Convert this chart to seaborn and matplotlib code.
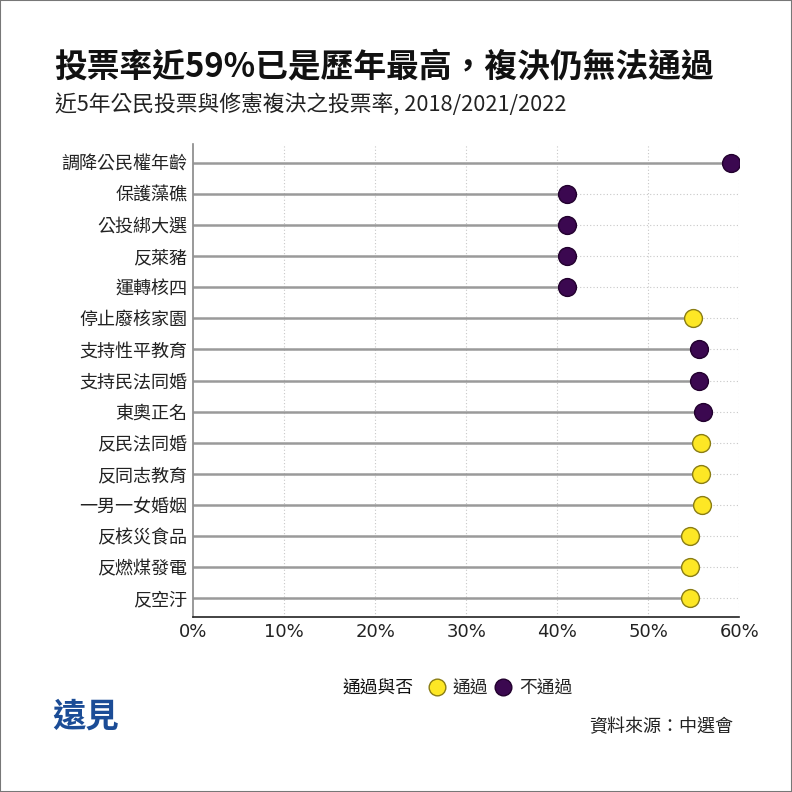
import matplotlib
matplotlib.use("Agg")
import matplotlib.pyplot as plt
from matplotlib.lines import Line2D
from matplotlib.patches import Rectangle
import seaborn as sns
import pandas as pd

# referendum turnout (%)
items = ["調降公民權年齡", "保護藻礁", "公投綁大選", "反萊豬", "運轉核四",
         "停止廢核家園", "支持性平教育", "支持民法同婚", "東奧正名", "反民法同婚",
         "反同志教育", "一男一女婚姻", "反核災食品", "反燃煤發電", "反空汙"]
turnout = [59.1, 41.1, 41.1, 41.1, 41.1,
           54.9, 55.5, 55.5, 56.0, 55.8,
           55.8, 55.9, 54.6, 54.6, 54.6]
result = ["不通過", "不通過", "不通過", "不通過", "不通過",
          "通過", "不通過", "不通過", "不通過", "通過",
          "通過", "通過", "通過", "通過", "通過"]
status_order = ["通過", "不通過"]
xticks = [0, 10, 20, 30, 40, 50, 60]

df = pd.DataFrame({"item": items, "turnout": turnout, "result": result})
df["pos"] = range(len(df))

colors = {"通過": "#fde725", "不通過": "#3b0850"}
edges = {"通過": "#8a7d14", "不通過": "#22002e"}

sns.set_style("white")
plt.rcParams["font.family"] = ["Noto Sans CJK TC", "DejaVu Sans"]

fig = plt.figure(figsize=(7.92, 7.92), dpi=100)
ax = fig.add_axes([0.2437, 0.221, 0.690, 0.597])

ax.set_xlim(0, 60)
ax.set_ylim(len(df) - 0.4, -0.6)

# dotted grid
for t in xticks[1:]:
    ax.axvline(t, color="#c8c8c8", lw=0.8, ls=(0, (1, 2)), zorder=0)
for p in df["pos"]:
    ax.axhline(p, color="#c8c8c8", lw=0.8, ls=(0, (1, 2)), zorder=0)

# stems
ax.hlines(df["pos"], 0, df["turnout"], color="#9a9a9a", lw=1.8, zorder=1)

for s in status_order:
    sub = df[df["result"] == s]
    sns.scatterplot(data=sub, x="turnout", y="pos", ax=ax, s=165,
                    color=colors[s], edgecolor=edges[s], linewidth=1.0,
                    zorder=3, legend=False)

ax.set_yticks(df["pos"])
ax.set_yticklabels(df["item"], fontsize=13, color="#222222")
ax.set_xticks(xticks)
ax.set_xticklabels([f"{t}%" for t in xticks], fontsize=13, color="#222222",
                   family="DejaVu Sans")
ax.set_xlabel("")
ax.set_ylabel("")
ax.tick_params(axis="both", length=0, pad=4)
for sp in ["top", "right"]:
    ax.spines[sp].set_visible(False)
ax.spines["left"].set_color("#888888")
ax.spines["left"].set_linewidth(1.2)
ax.spines["bottom"].set_color("#222222")
ax.spines["bottom"].set_linewidth(1.2)

# titles
fig.text(0.069, 0.915, "投票率近59%已是歷年最高，複決仍無法通過",
         fontsize=23.6, fontweight="bold", color="#111111", va="center")
fig.text(0.069, 0.868, "近5年公民投票與修憲複決之投票率, 2018/2021/2022",
         fontsize=15.7, color="#222222", va="center")

# legend
fig.text(0.433, 0.131, "通過與否", fontsize=12.8, color="#111111", va="center")
handles = [Line2D([], [], ls="", marker="o", markersize=12,
                  markerfacecolor=colors[s], markeredgecolor=edges[s])
           for s in status_order]
fig.legend(handles, status_order, loc="center left", bbox_to_anchor=(0.540, 0.131),
           ncol=2, frameon=False, fontsize=12.8, handlelength=1.0,
           handletextpad=0.4, columnspacing=0.35, borderaxespad=0, borderpad=0)

# source and logo
fig.text(0.926, 0.082, "資料來源：中選會", fontsize=13, color="#222222",
         ha="right", va="center")
fig.text(0.108, 0.095, "遠見", fontsize=24, fontweight="bold", color="#1b4c96",
         ha="center", va="center")

fig.patches.append(Rectangle((0, 0), 1, 1, transform=fig.transFigure,
                             fill=False, edgecolor="#777777", lw=1.5))

fig.savefig("out.png", dpi=100, facecolor="white")
